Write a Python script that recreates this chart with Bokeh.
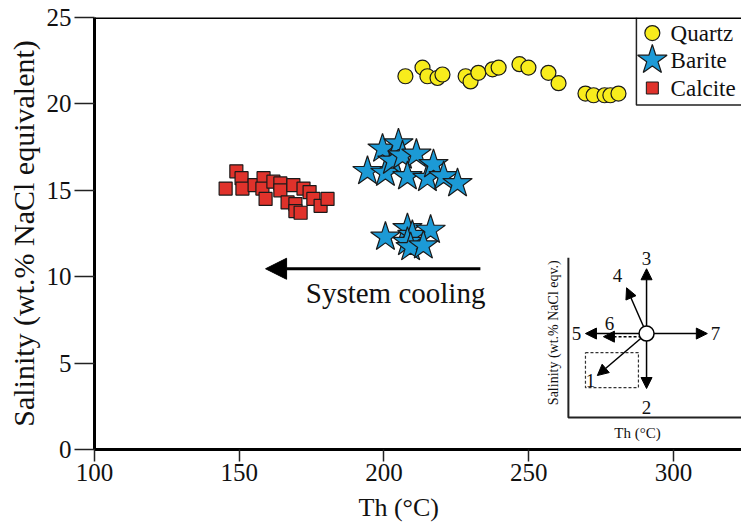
import math
from bokeh.plotting import figure
from bokeh.models import Range1d, Span, Arrow, NormalHead, Title
from bokeh.core.properties import value
from bokeh.embed import file_html
from bokeh.resources import INLINE

FONT = "Liberation Serif"

# ---------------- data ----------------
quartz_th = [207.4, 213.3, 215.0, 218.5, 220.2, 228.2, 229.9, 232.6, 237.5, 239.6,
             246.8, 249.9, 256.8, 260.3, 269.6, 272.4, 276.2, 278.2, 281.0]
quartz_sal = [21.6, 22.1, 21.6, 21.5, 21.7, 21.6, 21.3, 21.8, 22.0, 22.1,
              22.3, 22.1, 21.8, 21.2, 20.6, 20.5, 20.5, 20.5, 20.6]

barite_th = [194.3, 199.5, 200.5, 202.9, 205.0, 206.4, 211.2, 208.1, 215.0, 217.1,
             220.6, 225.4, 200.5, 208.1, 209.8, 216.1, 208.1, 209.2, 213.6]
barite_sal = [16.1, 17.4, 16.0, 16.7, 17.7, 17.0, 17.1, 15.8, 15.7, 16.5,
              15.8, 15.4, 12.3, 12.8, 12.4, 12.7, 12.0, 11.7, 11.8]

calcite_th = [145.3, 149.0, 150.8, 151.1, 155.3, 158.4, 158.0, 159.1, 161.8, 164.2,
              164.2, 168.7, 172.2, 174.3, 166.7, 169.4, 169.4, 171.2, 175.6, 178.1, 180.5]
calcite_sal = [15.1, 16.1, 15.7, 15.1, 15.3, 15.7, 15.1, 14.5, 15.5, 15.4,
               15.0, 15.3, 15.1, 14.9, 14.3, 14.2, 13.8, 13.7, 14.5, 14.1, 14.5]

x_ticks = [100, 150, 200, 250, 300]
y_ticks = [0, 5, 10, 15, 20, 25]
legend_labels = ["Quartz", "Barite", "Calcite"]
inset_labels = ["1", "2", "3", "4", "5", "6", "7"]

QUARTZ = "#F8EC1C"
BARITE = "#1C9AD6"
CALCITE = "#E0322B"
EDGE = "#1a1a1a"

# ---------------- figure ----------------
p = figure(width=741, height=531, output_backend="svg", toolbar_location=None,
           x_range=Range1d(100, 323.5), y_range=Range1d(0, 25),
           min_border_left=94, min_border_right=0, min_border_top=17, min_border_bottom=82,
           y_axis_label="Salinity (wt.% NaCl equivalent)")
p.outline_line_color = None
p.grid.visible = False
p.background_fill_color = "white"

for ax in (p.xaxis[0], p.yaxis[0]):
    ax.axis_line_width = 3
    ax.axis_line_color = "black"
    ax.major_tick_line_width = 1.5
    ax.major_tick_line_color = "#222"
    ax.minor_tick_line_color = None
    ax.major_tick_in = 0
    ax.major_label_text_font = FONT
    ax.major_label_text_font_size = "25px"
    ax.major_label_text_color = "#111"
    ax.axis_label_text_font = FONT
    ax.axis_label_text_font_style = "normal"
    ax.axis_label_text_color = "#111"

p.xaxis.ticker = x_ticks
p.yaxis.ticker = y_ticks
p.xaxis.major_tick_out = 12
p.xaxis.major_label_standoff = 2
p.yaxis.major_tick_out = 20
p.yaxis.major_label_standoff = 3
p.yaxis.axis_label_text_font_size = "30px"
p.yaxis.axis_label_standoff = 4

# x axis title placed below the tick labels
p.add_layout(Title(text="Th (°C)", align="left", offset=264, standoff=15,
                   text_font=FONT, text_font_size="26px", text_font_style="normal",
                   text_line_height=0.5, text_color="#111"), "below")

p.add_layout(Span(location=25, dimension="width", line_width=3, line_color="black"))

# ---------------- data points ----------------
p.scatter(calcite_th, calcite_sal, marker="square", size=13,
          fill_color=CALCITE, line_color=EDGE, line_width=1.2)
p.scatter(barite_th, barite_sal, marker="star", size=31,
          fill_color=BARITE, line_color=EDGE, line_width=1.2)
p.scatter(quartz_th, quartz_sal, marker="circle", size=15,
          fill_color=QUARTZ, line_color=EDGE, line_width=1.2)

# ---------------- system cooling arrow ----------------
p.add_layout(Arrow(end=NormalHead(size=21, fill_color="black", line_color="black"),
                   x_start=233.3, y_start=10.46, x_end=159.1, y_end=10.46,
                   line_width=3, line_color="black"))
p.text(x=[204.0], y=[9.08], text=["System cooling"], text_align="center",
       text_baseline="middle", text_font=value(FONT), text_font_size="29px",
       text_color="#111")

# ---------------- legend ----------------
p.quad(left=[287.2], right=[330], bottom=[19.94], top=[25], fill_color="white",
       line_color=None)
p.line([287.2, 287.2, 330], [25, 19.94, 19.94], line_width=1.5, line_color="#222")
leg_x = 292.7
leg_y = [24.1, 22.54, 20.92]
p.scatter([leg_x], [leg_y[0]], marker="circle", size=15, fill_color=QUARTZ,
          line_color=EDGE, line_width=1.2)
p.scatter([leg_x], [leg_y[1]], marker="star", size=31, fill_color=BARITE,
          line_color=EDGE, line_width=1.2)
p.scatter([leg_x], [leg_y[2]], marker="square", size=12, fill_color=CALCITE,
          line_color=EDGE, line_width=1.0)
p.text(x=[299.0] * 3, y=leg_y, text=legend_labels, text_align="left",
       text_baseline="middle", text_font=value(FONT), text_font_size="23px",
       text_color="#111")

# ---------------- inset diagram ----------------
cx, cy = 290.7, 6.71
p.line([263.7, 263.7, 330], [11.1, 1.85, 1.85], line_width=2, line_color="#222")
p.text(x=[258.5], y=[6.76], text=["Salinity (wt.% NaCl eqv.)"], angle=math.pi / 2,
       text_align="center", text_baseline="middle", text_font=value(FONT),
       text_font_size="14px", text_color="#111")
p.text(x=[287.6], y=[0.95], text=["Th (°C)"], text_align="center",
       text_baseline="middle", text_font=value(FONT), text_font_size="15px",
       text_color="#111")

# dashed box
p.line([269.6, 287.9, 287.9, 269.6, 269.6], [5.61, 5.61, 3.58, 3.58, 5.61],
       line_width=1.2, line_dash="3 2", line_color="#333")

inset_ends = [(273.7, 4.28), (290.7, 3.53), (290.7, 10.46), (283.8, 9.36),
              (269.6, 6.71), (275.8, 6.53), (311.7, 6.71)]
for i, (xe, ye) in enumerate(inset_ends):
    ys = cy if i != 5 else 6.53
    dash = "3 2" if i == 5 else "solid"
    p.add_layout(Arrow(end=NormalHead(size=11, fill_color="black", line_color="black"),
                       x_start=cx, y_start=ys, x_end=xe, y_end=ye,
                       line_width=1.5, line_color="black", line_dash=dash))

lab_x = [271.3, 290.7, 290.7, 280.7, 266.5, 277.9, 314.5]
lab_y = [3.99, 2.43, 11.04, 10.06, 6.71, 7.28, 6.71]
p.text(x=lab_x, y=lab_y, text=inset_labels, text_align="center", text_baseline="middle",
       text_font=value(FONT), text_font_size="19px", text_color="#111")

p.scatter([cx], [cy], marker="circle", size=15, fill_color="white", line_color="black",
          line_width=1.5, level="overlay")

open("out.html", "w").write(file_html(p, INLINE))
